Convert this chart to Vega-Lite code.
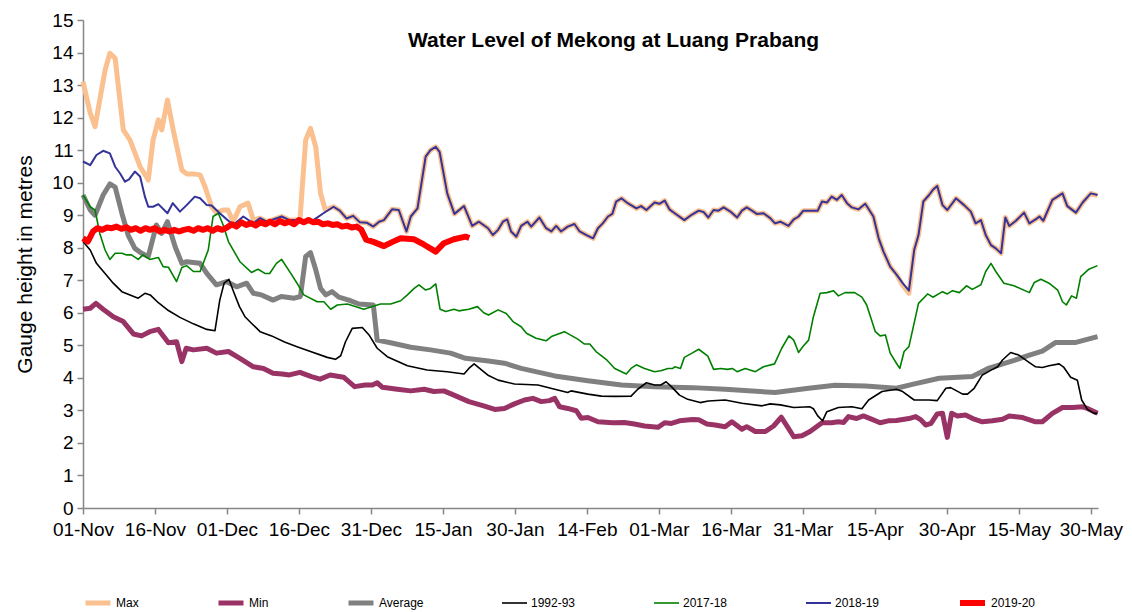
{
  "$schema": "https://vega.github.io/schema/vega-lite/v6.json",
  "width": 1015,
  "height": 488,
  "autosize": "none",
  "padding": {"left": 83, "top": 20, "right": 34, "bottom": 104},
  "title": {"text": "Water Level of Mekong at Luang Prabang", "font": "Liberation Sans", "fontSize": 21, "fontWeight": "bold", "color": "black", "anchor": "middle", "frame": "group", "offset": -40, "dx": 23},
  "config": {"view": {"stroke": null}, "font": "Liberation Sans"},
  "datasets": {
    "max": [
      {"s":"Max","d":0,"v":13.1},{"s":"Max","d":1.5,"v":12.14},{"s":"Max","d":2.5,"v":11.72},{"s":"Max","d":4.6,"v":13.46},{"s":"Max","d":5.6,"v":13.98},{"s":"Max","d":6.7,"v":13.82},{"s":"Max","d":8.4,"v":11.62},{"s":"Max","d":9.8,"v":11.31},{"s":"Max","d":11.9,"v":10.49},{"s":"Max","d":13.6,"v":10.08},{"s":"Max","d":14.6,"v":11.31},{"s":"Max","d":15.7,"v":11.93},{"s":"Max","d":16.4,"v":11.62},{"s":"Max","d":17.6,"v":12.54},{"s":"Max","d":18.8,"v":11.62},{"s":"Max","d":20.6,"v":10.39},{"s":"Max","d":21.6,"v":10.27},{"s":"Max","d":23,"v":10.27},{"s":"Max","d":24.4,"v":10.24},{"s":"Max","d":25.4,"v":9.88},{"s":"Max","d":26.8,"v":9.26},{"s":"Max","d":27.8,"v":9.08},{"s":"Max","d":29.2,"v":9.16},{"s":"Max","d":30.2,"v":9.16},{"s":"Max","d":31.3,"v":8.8},{"s":"Max","d":32.7,"v":9.26},{"s":"Max","d":34.4,"v":9.37},{"s":"Max","d":35.5,"v":8.85},{"s":"Max","d":36.9,"v":8.91},{"s":"Max","d":38.3,"v":8.8},{"s":"Max","d":41.4,"v":8.96},{"s":"Max","d":43,"v":8.85},{"s":"Max","d":45.2,"v":8.85},{"s":"Max","d":46.4,"v":11.31},{"s":"Max","d":47.4,"v":11.67},{"s":"Max","d":48.5,"v":11.1},{"s":"Max","d":49.5,"v":9.67},{"s":"Max","d":50.5,"v":9.16},
      {"s":"Max","d":52.2,"v":9.26},{"s":"Max","d":53.5,"v":9.14},{"s":"Max","d":54.9,"v":8.9},{"s":"Max","d":56.3,"v":8.98},{"s":"Max","d":57.7,"v":8.78},{"s":"Max","d":59.1,"v":8.77},{"s":"Max","d":60.5,"v":8.65},{"s":"Max","d":61.7,"v":8.8},{"s":"Max","d":62.7,"v":8.85},{"s":"Max","d":64.4,"v":9.18},{"s":"Max","d":65.8,"v":9.16},{"s":"Max","d":67.4,"v":8.5},{"s":"Max","d":68.3,"v":8.96},{"s":"Max","d":69.7,"v":9.21},{"s":"Max","d":71.4,"v":10.8},{"s":"Max","d":72.4,"v":11.0},{"s":"Max","d":73.5,"v":11.1},{"s":"Max","d":74.3,"v":10.95},{"s":"Max","d":75.9,"v":9.67},{"s":"Max","d":77.4,"v":9.04},{"s":"Max","d":79.4,"v":9.28},{"s":"Max","d":81.1,"v":8.67},{"s":"Max","d":82.5,"v":8.8},{"s":"Max","d":84.4,"v":8.6},{"s":"Max","d":85.4,"v":8.39},{"s":"Max","d":86.5,"v":8.55},{"s":"Max","d":87.5,"v":8.8},{"s":"Max","d":88.4,"v":8.87},{"s":"Max","d":89.2,"v":8.5},{"s":"Max","d":90.3,"v":8.34},{"s":"Max","d":91.3,"v":8.67},{"s":"Max","d":92.6,"v":8.8},{"s":"Max","d":93.4,"v":8.65},{"s":"Max","d":95.1,"v":8.93},{"s":"Max","d":96.5,"v":8.6},{"s":"Max","d":97.6,"v":8.5},{"s":"Max","d":98.6,"v":8.67},{"s":"Max","d":99.6,"v":8.5},{"s":"Max","d":101,"v":8.65},{"s":"Max","d":102.4,"v":8.73},{"s":"Max","d":103.5,"v":8.5},{"s":"Max","d":104.9,"v":8.39},{"s":"Max","d":106.3,"v":8.29},{"s":"Max","d":107.3,"v":8.6},{"s":"Max","d":108.3,"v":8.75},{"s":"Max","d":109.4,"v":8.96},{"s":"Max","d":110.3,"v":9.04},{"s":"Max","d":111.1,"v":9.42},{"s":"Max","d":112.2,"v":9.52},{"s":"Max","d":113.5,"v":9.37},{"s":"Max","d":115.3,"v":9.21},{"s":"Max","d":116.3,"v":9.28},{"s":"Max","d":117.4,"v":9.16},{"s":"Max","d":119.1,"v":9.39},{"s":"Max","d":120.1,"v":9.35},{"s":"Max","d":121.2,"v":9.45},{"s":"Max","d":122.2,"v":9.18},{"s":"Max","d":123.3,"v":9.06},{"s":"Max","d":125.3,"v":8.85},{"s":"Max","d":126.9,"v":9.02},{"s":"Max","d":128.3,"v":9.14},{"s":"Max","d":129.3,"v":9.1},{"s":"Max","d":130.3,"v":8.93},{"s":"Max","d":131.4,"v":9.16},{"s":"Max","d":132.4,"v":9.14},{"s":"Max","d":133.5,"v":9.24},{"s":"Max","d":134.9,"v":9.11},{"s":"Max","d":136.3,"v":8.93},{"s":"Max","d":137.3,"v":9.14},{"s":"Max","d":138.3,"v":9.24},{"s":"Max","d":139.4,"v":9.14},{"s":"Max","d":140.4,"v":9.04},{"s":"Max","d":141.8,"v":9.06},{"s":"Max","d":143.2,"v":8.91},{"s":"Max","d":144.2,"v":8.75},{"s":"Max","d":145.3,"v":8.8},{"s":"Max","d":147,"v":8.67},{"s":"Max","d":148.1,"v":8.87},{"s":"Max","d":149.1,"v":8.96},{"s":"Max","d":150.1,"v":9.14},{"s":"Max","d":153.1,"v":9.14},{"s":"Max","d":154,"v":9.42},{"s":"Max","d":155,"v":9.39},{"s":"Max","d":156,"v":9.57},{"s":"Max","d":157.1,"v":9.47},{"s":"Max","d":158.1,"v":9.62},{"s":"Max","d":159.2,"v":9.37},{"s":"Max","d":160.2,"v":9.24},{"s":"Max","d":161.6,"v":9.18},{"s":"Max","d":163,"v":9.35},{"s":"Max","d":164.7,"v":8.96},{"s":"Max","d":165.8,"v":8.29},{"s":"Max","d":166.8,"v":7.88},{"s":"Max","d":168.2,"v":7.42},{"s":"Max","d":169.6,"v":7.16},{"s":"Max","d":170.8,"v":6.85},{"s":"Max","d":172.1,"v":6.6},{"s":"Max","d":173.2,"v":7.93},{"s":"Max","d":174.1,"v":8.39},{"s":"Max","d":175.1,"v":9.42},{"s":"Max","d":176.3,"v":9.62},{"s":"Max","d":177.1,"v":9.78},{"s":"Max","d":178,"v":9.9},{"s":"Max","d":179.1,"v":9.31},{"s":"Max","d":180.1,"v":9.16},{"s":"Max","d":181.9,"v":9.52},{"s":"Max","d":183.6,"v":9.31},{"s":"Max","d":185,"v":9.11},{"s":"Max","d":186,"v":8.75},{"s":"Max","d":187.1,"v":8.85},{"s":"Max","d":188.1,"v":8.39},{"s":"Max","d":189.2,"v":8.08},{"s":"Max","d":190.2,"v":7.98},{"s":"Max","d":191.3,"v":7.83},{"s":"Max","d":192.2,"v":8.93},{"s":"Max","d":193,"v":8.67},{"s":"Max","d":194.4,"v":8.83},{"s":"Max","d":196.1,"v":9.08},{"s":"Max","d":197.2,"v":8.75},{"s":"Max","d":198.5,"v":8.87},{"s":"Max","d":199.3,"v":8.96},{"s":"Max","d":200.1,"v":8.83},{"s":"Max","d":202,"v":9.47},{"s":"Max","d":204.1,"v":9.67},{"s":"Max","d":205.1,"v":9.28},{"s":"Max","d":206.9,"v":9.08},{"s":"Max","d":208.3,"v":9.39},{"s":"Max","d":210,"v":9.67},{"s":"Max","d":211.4,"v":9.6}
    ],
    "min": [
      {"s":"Min","d":0,"v":6.11},{"s":"Min","d":1.5,"v":6.14},{"s":"Min","d":2.7,"v":6.29},{"s":"Min","d":4.2,"v":6.11},{"s":"Min","d":6.3,"v":5.88},{"s":"Min","d":8.4,"v":5.73},{"s":"Min","d":10.5,"v":5.35},{"s":"Min","d":12.2,"v":5.29},{"s":"Min","d":13.9,"v":5.42},{"s":"Min","d":15.7,"v":5.49},{"s":"Min","d":17.8,"v":5.08},{"s":"Min","d":19.5,"v":5.11},{"s":"Min","d":20.6,"v":4.5},{"s":"Min","d":21.5,"v":4.91},{"s":"Min","d":23,"v":4.86},{"s":"Min","d":25.8,"v":4.91},{"s":"Min","d":27.8,"v":4.76},{"s":"Min","d":30.3,"v":4.81},{"s":"Min","d":32.7,"v":4.6},{"s":"Min","d":35.5,"v":4.34},{"s":"Min","d":37.6,"v":4.29},{"s":"Min","d":39.6,"v":4.14},{"s":"Min","d":41.5,"v":4.12},{"s":"Min","d":43,"v":4.09},{"s":"Min","d":45.2,"v":4.17},{"s":"Min","d":47.6,"v":4.04},{"s":"Min","d":49.4,"v":3.96},{"s":"Min","d":51.5,"v":4.09},{"s":"Min","d":54.3,"v":4.02},{"s":"Min","d":56.6,"v":3.73},{"s":"Min","d":58.8,"v":3.78},{"s":"Min","d":60.3,"v":3.78},{"s":"Min","d":61.3,"v":3.85},{"s":"Min","d":62.4,"v":3.71},{"s":"Min","d":65.5,"v":3.65},{"s":"Min","d":68.3,"v":3.6},{"s":"Min","d":71.1,"v":3.65},{"s":"Min","d":73.1,"v":3.58},{"s":"Min","d":75.2,"v":3.6},{"s":"Min","d":77.3,"v":3.47},{"s":"Min","d":80.4,"v":3.27},{"s":"Min","d":83.5,"v":3.14},{"s":"Min","d":85.8,"v":3.03},{"s":"Min","d":87.8,"v":3.06},{"s":"Min","d":89.9,"v":3.2},{"s":"Min","d":92,"v":3.32},{"s":"Min","d":93.75,"v":3.37},{"s":"Min","d":95.5,"v":3.27},{"s":"Min","d":97.2,"v":3.3},{"s":"Min","d":98.3,"v":3.37},{"s":"Min","d":99.3,"v":3.11},{"s":"Min","d":101,"v":3.06},{"s":"Min","d":102.8,"v":2.99},{"s":"Min","d":103.8,"v":2.76},{"s":"Min","d":105.2,"v":2.78},{"s":"Min","d":107.3,"v":2.65},{"s":"Min","d":110.4,"v":2.62},{"s":"Min","d":112.8,"v":2.63},{"s":"Min","d":114.9,"v":2.58},{"s":"Min","d":117,"v":2.52},{"s":"Min","d":119.8,"v":2.48},{"s":"Min","d":121.2,"v":2.62},{"s":"Min","d":122.6,"v":2.6},{"s":"Min","d":124.3,"v":2.68},{"s":"Min","d":127,"v":2.72},{"s":"Min","d":128.3,"v":2.71},{"s":"Min","d":130,"v":2.58},{"s":"Min","d":131.7,"v":2.55},{"s":"Min","d":133.8,"v":2.5},{"s":"Min","d":135.2,"v":2.65},{"s":"Min","d":137.3,"v":2.42},{"s":"Min","d":138.3,"v":2.5},{"s":"Min","d":140.1,"v":2.35},{"s":"Min","d":142.2,"v":2.35},{"s":"Min","d":143.9,"v":2.52},{"s":"Min","d":145.5,"v":2.79},{"s":"Min","d":146.7,"v":2.52},{"s":"Min","d":148.1,"v":2.19},{"s":"Min","d":149.8,"v":2.22},{"s":"Min","d":151.5,"v":2.35},{"s":"Min","d":154,"v":2.62},{"s":"Min","d":156,"v":2.62},{"s":"Min","d":157.4,"v":2.65},{"s":"Min","d":158.5,"v":2.63},{"s":"Min","d":159.5,"v":2.81},{"s":"Min","d":161.2,"v":2.75},{"s":"Min","d":162.6,"v":2.83},{"s":"Min","d":164.3,"v":2.73},{"s":"Min","d":166.1,"v":2.62},{"s":"Min","d":167.8,"v":2.68},{"s":"Min","d":169.5,"v":2.69},{"s":"Min","d":172.1,"v":2.75},{"s":"Min","d":173.5,"v":2.81},{"s":"Min","d":174.6,"v":2.71},{"s":"Min","d":175.6,"v":2.55},{"s":"Min","d":176.7,"v":2.6},{"s":"Min","d":178,"v":2.89},{"s":"Min","d":179.1,"v":2.91},{"s":"Min","d":180.1,"v":2.17},{"s":"Min","d":181,"v":2.91},{"s":"Min","d":182.2,"v":2.83},{"s":"Min","d":183.9,"v":2.86},{"s":"Min","d":185.7,"v":2.73},{"s":"Min","d":187.4,"v":2.65},{"s":"Min","d":189.5,"v":2.68},{"s":"Min","d":191.6,"v":2.73},{"s":"Min","d":193,"v":2.83},{"s":"Min","d":195.8,"v":2.78},{"s":"Min","d":198.5,"v":2.65},{"s":"Min","d":199.9,"v":2.65},{"s":"Min","d":202,"v":2.91},{"s":"Min","d":204.1,"v":3.09},{"s":"Min","d":206.2,"v":3.09},{"s":"Min","d":208.3,"v":3.11},{"s":"Min","d":209.3,"v":3.06},{"s":"Min","d":211.4,"v":2.91}
    ],
    "avg": [
      {"s":"Average","d":0,"v":9.62},{"s":"Average","d":1.5,"v":9.16},{"s":"Average","d":2.5,"v":9.0},{"s":"Average","d":4.2,"v":9.62},{"s":"Average","d":5.6,"v":9.96},{"s":"Average","d":6.7,"v":9.86},{"s":"Average","d":8.1,"v":9.06},{"s":"Average","d":9.4,"v":8.39},{"s":"Average","d":10.8,"v":7.98},{"s":"Average","d":12.2,"v":7.83},{"s":"Average","d":13.6,"v":7.73},{"s":"Average","d":15.3,"v":8.7},{"s":"Average","d":16.4,"v":8.44},{"s":"Average","d":17.6,"v":8.8},{"s":"Average","d":19.2,"v":8.03},{"s":"Average","d":20.6,"v":7.52},{"s":"Average","d":21.6,"v":7.57},{"s":"Average","d":24.4,"v":7.52},{"s":"Average","d":25.8,"v":7.21},{"s":"Average","d":27.8,"v":6.86},{"s":"Average","d":29.9,"v":6.96},{"s":"Average","d":32,"v":6.8},{"s":"Average","d":34.1,"v":6.91},{"s":"Average","d":35.5,"v":6.6},{"s":"Average","d":37.2,"v":6.55},{"s":"Average","d":39.6,"v":6.39},{"s":"Average","d":41.3,"v":6.5},{"s":"Average","d":44,"v":6.45},{"s":"Average","d":45.3,"v":6.5},{"s":"Average","d":46.4,"v":7.73},{"s":"Average","d":47.4,"v":7.85},{"s":"Average","d":48.5,"v":7.32},{"s":"Average","d":49.5,"v":6.75},{"s":"Average","d":50.6,"v":6.55},{"s":"Average","d":51.9,"v":6.65},{"s":"Average","d":53.3,"v":6.48},{"s":"Average","d":55.4,"v":6.39},{"s":"Average","d":57.5,"v":6.27},{"s":"Average","d":60.5,"v":6.24},{"s":"Average","d":61.3,"v":5.16},{"s":"Average","d":64.1,"v":5.08},{"s":"Average","d":68.3,"v":4.94},{"s":"Average","d":72.4,"v":4.86},{"s":"Average","d":76.6,"v":4.76},{"s":"Average","d":79.7,"v":4.6},{"s":"Average","d":84.5,"v":4.52},{"s":"Average","d":87.8,"v":4.45},{"s":"Average","d":91.3,"v":4.29},{"s":"Average","d":98.3,"v":4.06},{"s":"Average","d":105.2,"v":3.91},{"s":"Average","d":112.2,"v":3.78},{"s":"Average","d":119.1,"v":3.73},{"s":"Average","d":127,"v":3.7},{"s":"Average","d":133.8,"v":3.65},{"s":"Average","d":144.2,"v":3.55},{"s":"Average","d":151.2,"v":3.68},{"s":"Average","d":156.7,"v":3.77},{"s":"Average","d":163,"v":3.75},{"s":"Average","d":169.5,"v":3.68},{"s":"Average","d":172.8,"v":3.8},{"s":"Average","d":178.4,"v":3.99},{"s":"Average","d":185.3,"v":4.04},{"s":"Average","d":188.8,"v":4.3},{"s":"Average","d":193.7,"v":4.52},{"s":"Average","d":197.2,"v":4.7},{"s":"Average","d":199.9,"v":4.82},{"s":"Average","d":202.7,"v":5.09},{"s":"Average","d":206.9,"v":5.09},{"s":"Average","d":211.4,"v":5.27}
    ],
    "y1992": [
      {"s":"1992-93","d":0,"v":8.19},{"s":"1992-93","d":1.5,"v":7.93},{"s":"1992-93","d":2.8,"v":7.52},{"s":"1992-93","d":4.6,"v":7.21},{"s":"1992-93","d":6.3,"v":6.91},{"s":"1992-93","d":8.1,"v":6.65},{"s":"1992-93","d":9.8,"v":6.55},{"s":"1992-93","d":11.5,"v":6.45},{"s":"1992-93","d":12.9,"v":6.6},{"s":"1992-93","d":14,"v":6.55},{"s":"1992-93","d":15.7,"v":6.31},{"s":"1992-93","d":17.8,"v":6.07},{"s":"1992-93","d":20.2,"v":5.86},{"s":"1992-93","d":23,"v":5.66},{"s":"1992-93","d":25.8,"v":5.49},{"s":"1992-93","d":27.5,"v":5.45},{"s":"1992-93","d":28.5,"v":6.39},{"s":"1992-93","d":29.4,"v":6.91},{"s":"1992-93","d":30.4,"v":7.03},{"s":"1992-93","d":31.5,"v":6.6},{"s":"1992-93","d":32.6,"v":6.19},{"s":"1992-93","d":33.75,"v":5.88},{"s":"1992-93","d":35.1,"v":5.68},{"s":"1992-93","d":36.9,"v":5.42},{"s":"1992-93","d":39.3,"v":5.29},{"s":"1992-93","d":42,"v":5.1},{"s":"1992-93","d":44.6,"v":4.96},{"s":"1992-93","d":47.4,"v":4.81},{"s":"1992-93","d":50.9,"v":4.63},{"s":"1992-93","d":52.6,"v":4.57},{"s":"1992-93","d":53.7,"v":4.68},{"s":"1992-93","d":54.7,"v":5.11},{"s":"1992-93","d":56.1,"v":5.52},{"s":"1992-93","d":58.2,"v":5.55},{"s":"1992-93","d":59.6,"v":5.32},{"s":"1992-93","d":61.3,"v":4.91},{"s":"1992-93","d":63.4,"v":4.65},{"s":"1992-93","d":67.6,"v":4.37},{"s":"1992-93","d":71.7,"v":4.24},{"s":"1992-93","d":75.9,"v":4.19},{"s":"1992-93","d":79.4,"v":4.12},{"s":"1992-93","d":80.4,"v":4.29},{"s":"1992-93","d":81.5,"v":4.43},{"s":"1992-93","d":82.9,"v":4.26},{"s":"1992-93","d":84.5,"v":4.07},{"s":"1992-93","d":86.5,"v":3.93},{"s":"1992-93","d":89.9,"v":3.81},{"s":"1992-93","d":94.8,"v":3.78},{"s":"1992-93","d":98.3,"v":3.65},{"s":"1992-93","d":101,"v":3.55},{"s":"1992-93","d":101.7,"v":3.6},{"s":"1992-93","d":105.2,"v":3.5},{"s":"1992-93","d":108,"v":3.44},{"s":"1992-93","d":110.8,"v":3.43},{"s":"1992-93","d":114.2,"v":3.44},{"s":"1992-93","d":115.6,"v":3.65},{"s":"1992-93","d":117.4,"v":3.85},{"s":"1992-93","d":119.1,"v":3.78},{"s":"1992-93","d":120.4,"v":3.78},{"s":"1992-93","d":121.5,"v":3.88},{"s":"1992-93","d":122.6,"v":3.73},{"s":"1992-93","d":124.3,"v":3.47},{"s":"1992-93","d":126,"v":3.34},{"s":"1992-93","d":128.6,"v":3.24},{"s":"1992-93","d":130.3,"v":3.29},{"s":"1992-93","d":133.8,"v":3.32},{"s":"1992-93","d":137.3,"v":3.22},{"s":"1992-93","d":141.5,"v":3.14},{"s":"1992-93","d":143.2,"v":3.2},{"s":"1992-93","d":145.3,"v":3.17},{"s":"1992-93","d":148.1,"v":3.09},{"s":"1992-93","d":151.5,"v":3.11},{"s":"1992-93","d":152.2,"v":3.05},{"s":"1992-93","d":153.1,"v":2.83},{"s":"1992-93","d":154.1,"v":2.68},{"s":"1992-93","d":155,"v":2.96},{"s":"1992-93","d":157.4,"v":3.09},{"s":"1992-93","d":160.2,"v":3.11},{"s":"1992-93","d":162.3,"v":3.05},{"s":"1992-93","d":163.7,"v":3.32},{"s":"1992-93","d":166.5,"v":3.58},{"s":"1992-93","d":169.5,"v":3.65},{"s":"1992-93","d":170.8,"v":3.58},{"s":"1992-93","d":173.2,"v":3.32},{"s":"1992-93","d":176.3,"v":3.32},{"s":"1992-93","d":178,"v":3.3},{"s":"1992-93","d":179.8,"v":3.68},{"s":"1992-93","d":180.8,"v":3.7},{"s":"1992-93","d":183.3,"v":3.5},{"s":"1992-93","d":184.3,"v":3.5},{"s":"1992-93","d":185.7,"v":3.68},{"s":"1992-93","d":187.4,"v":4.09},{"s":"1992-93","d":189.5,"v":4.26},{"s":"1992-93","d":190.6,"v":4.34},{"s":"1992-93","d":191.6,"v":4.55},{"s":"1992-93","d":193.3,"v":4.78},{"s":"1992-93","d":195,"v":4.7},{"s":"1992-93","d":197.2,"v":4.47},{"s":"1992-93","d":198.5,"v":4.34},{"s":"1992-93","d":199.9,"v":4.32},{"s":"1992-93","d":201.3,"v":4.37},{"s":"1992-93","d":203.4,"v":4.43},{"s":"1992-93","d":204.4,"v":4.32},{"s":"1992-93","d":205.8,"v":4.02},{"s":"1992-93","d":207.2,"v":3.93},{"s":"1992-93","d":208.1,"v":3.32},{"s":"1992-93","d":209.3,"v":3.03},{"s":"1992-93","d":210.7,"v":2.91},{"s":"1992-93","d":211.4,"v":2.91}
    ],
    "y2017": [
      {"s":"2017-18","d":0,"v":9.62},{"s":"2017-18","d":1.5,"v":9.26},{"s":"2017-18","d":2.5,"v":9.16},{"s":"2017-18","d":3.5,"v":8.44},{"s":"2017-18","d":4.6,"v":7.93},{"s":"2017-18","d":5.6,"v":7.64},{"s":"2017-18","d":6.7,"v":7.83},{"s":"2017-18","d":8.1,"v":7.83},{"s":"2017-18","d":9.1,"v":7.78},{"s":"2017-18","d":10.1,"v":7.78},{"s":"2017-18","d":11.5,"v":7.64},{"s":"2017-18","d":12.5,"v":7.78},{"s":"2017-18","d":13.9,"v":7.64},{"s":"2017-18","d":15.7,"v":7.7},{"s":"2017-18","d":16.7,"v":7.42},{"s":"2017-18","d":17.8,"v":7.4},{"s":"2017-18","d":19.5,"v":6.96},{"s":"2017-18","d":20.6,"v":7.39},{"s":"2017-18","d":21.6,"v":7.45},{"s":"2017-18","d":23,"v":7.27},{"s":"2017-18","d":24.4,"v":7.27},{"s":"2017-18","d":26.1,"v":7.93},{"s":"2017-18","d":27.1,"v":8.96},{"s":"2017-18","d":28.2,"v":9.06},{"s":"2017-18","d":29.2,"v":8.7},{"s":"2017-18","d":30.3,"v":8.19},{"s":"2017-18","d":32.7,"v":7.57},{"s":"2017-18","d":35.1,"v":7.24},{"s":"2017-18","d":36.5,"v":7.34},{"s":"2017-18","d":37.9,"v":7.21},{"s":"2017-18","d":38.9,"v":7.21},{"s":"2017-18","d":40.3,"v":7.52},{"s":"2017-18","d":41.4,"v":7.64},{"s":"2017-18","d":43.3,"v":7.21},{"s":"2017-18","d":44.6,"v":6.91},{"s":"2017-18","d":46,"v":6.55},{"s":"2017-18","d":48.8,"v":6.34},{"s":"2017-18","d":50.2,"v":6.34},{"s":"2017-18","d":51.6,"v":6.11},{"s":"2017-18","d":53,"v":6.24},{"s":"2017-18","d":55.1,"v":6.27},{"s":"2017-18","d":58.5,"v":6.11},{"s":"2017-18","d":62,"v":6.27},{"s":"2017-18","d":64.1,"v":6.27},{"s":"2017-18","d":66.2,"v":6.37},{"s":"2017-18","d":67.6,"v":6.55},{"s":"2017-18","d":69,"v":6.75},{"s":"2017-18","d":70,"v":6.86},{"s":"2017-18","d":71.4,"v":6.7},{"s":"2017-18","d":72.4,"v":6.75},{"s":"2017-18","d":73.5,"v":6.89},{"s":"2017-18","d":74.4,"v":6.11},{"s":"2017-18","d":75.6,"v":6.04},{"s":"2017-18","d":77.3,"v":6.11},{"s":"2017-18","d":78.3,"v":6.06},{"s":"2017-18","d":80.4,"v":6.11},{"s":"2017-18","d":82.2,"v":6.19},{"s":"2017-18","d":83.5,"v":6.0},{"s":"2017-18","d":84.5,"v":5.93},{"s":"2017-18","d":86.5,"v":6.09},{"s":"2017-18","d":88.2,"v":5.98},{"s":"2017-18","d":89.6,"v":5.73},{"s":"2017-18","d":91.3,"v":5.57},{"s":"2017-18","d":92.4,"v":5.37},{"s":"2017-18","d":94.4,"v":5.22},{"s":"2017-18","d":96.5,"v":5.14},{"s":"2017-18","d":97.6,"v":5.27},{"s":"2017-18","d":100.3,"v":5.42},{"s":"2017-18","d":103.1,"v":5.19},{"s":"2017-18","d":104.5,"v":5.04},{"s":"2017-18","d":105.6,"v":5.04},{"s":"2017-18","d":106.9,"v":4.81},{"s":"2017-18","d":109,"v":4.57},{"s":"2017-18","d":110.8,"v":4.29},{"s":"2017-18","d":113.2,"v":4.12},{"s":"2017-18","d":114.2,"v":4.29},{"s":"2017-18","d":115.3,"v":4.4},{"s":"2017-18","d":117,"v":4.29},{"s":"2017-18","d":119.1,"v":4.19},{"s":"2017-18","d":120.4,"v":4.22},{"s":"2017-18","d":121.9,"v":4.29},{"s":"2017-18","d":122.9,"v":4.29},{"s":"2017-18","d":123.3,"v":4.34},{"s":"2017-18","d":124.5,"v":4.29},{"s":"2017-18","d":125.3,"v":4.63},{"s":"2017-18","d":126.9,"v":4.76},{"s":"2017-18","d":128.3,"v":4.88},{"s":"2017-18","d":130.2,"v":4.67},{"s":"2017-18","d":131.4,"v":4.26},{"s":"2017-18","d":132.9,"v":4.29},{"s":"2017-18","d":134.3,"v":4.26},{"s":"2017-18","d":135.3,"v":4.29},{"s":"2017-18","d":136.3,"v":4.19},{"s":"2017-18","d":138,"v":4.29},{"s":"2017-18","d":140.1,"v":4.19},{"s":"2017-18","d":141.8,"v":4.34},{"s":"2017-18","d":144.1,"v":4.43},{"s":"2017-18","d":145.6,"v":4.91},{"s":"2017-18","d":147.1,"v":5.29},{"s":"2017-18","d":148.1,"v":5.16},{"s":"2017-18","d":149.1,"v":4.78},{"s":"2017-18","d":150.1,"v":4.98},{"s":"2017-18","d":151.2,"v":5.16},{"s":"2017-18","d":152.2,"v":5.88},{"s":"2017-18","d":153.6,"v":6.6},{"s":"2017-18","d":155,"v":6.62},{"s":"2017-18","d":156.4,"v":6.68},{"s":"2017-18","d":157.4,"v":6.52},{"s":"2017-18","d":158.8,"v":6.62},{"s":"2017-18","d":160.8,"v":6.62},{"s":"2017-18","d":162.3,"v":6.48},{"s":"2017-18","d":163.3,"v":6.24},{"s":"2017-18","d":165.1,"v":5.42},{"s":"2017-18","d":166.1,"v":5.29},{"s":"2017-18","d":167.2,"v":5.32},{"s":"2017-18","d":168.2,"v":4.76},{"s":"2017-18","d":169.5,"v":4.45},{"s":"2017-18","d":170.2,"v":4.29},{"s":"2017-18","d":171.1,"v":4.81},{"s":"2017-18","d":172.1,"v":4.96},{"s":"2017-18","d":174.1,"v":6.29},{"s":"2017-18","d":176,"v":6.58},{"s":"2017-18","d":177.1,"v":6.48},{"s":"2017-18","d":179.1,"v":6.65},{"s":"2017-18","d":180.1,"v":6.58},{"s":"2017-18","d":181.2,"v":6.68},{"s":"2017-18","d":182.6,"v":6.62},{"s":"2017-18","d":184.1,"v":6.83},{"s":"2017-18","d":185.3,"v":6.72},{"s":"2017-18","d":187.1,"v":6.86},{"s":"2017-18","d":188.1,"v":7.27},{"s":"2017-18","d":189.2,"v":7.52},{"s":"2017-18","d":190.2,"v":7.27},{"s":"2017-18","d":191.9,"v":6.91},{"s":"2017-18","d":194,"v":6.83},{"s":"2017-18","d":197.2,"v":6.62},{"s":"2017-18","d":198.2,"v":6.93},{"s":"2017-18","d":199.6,"v":7.03},{"s":"2017-18","d":201.3,"v":6.91},{"s":"2017-18","d":203.1,"v":6.7},{"s":"2017-18","d":204.1,"v":6.34},{"s":"2017-18","d":204.9,"v":6.24},{"s":"2017-18","d":206,"v":6.52},{"s":"2017-18","d":207,"v":6.45},{"s":"2017-18","d":207.9,"v":7.11},{"s":"2017-18","d":209.6,"v":7.34},{"s":"2017-18","d":211.4,"v":7.45}
    ],
    "y2018": [
      {"s":"2018-19","d":0,"v":10.65},{"s":"2018-19","d":1.5,"v":10.54},{"s":"2018-19","d":2.8,"v":10.85},{"s":"2018-19","d":4.2,"v":10.98},{"s":"2018-19","d":5.6,"v":10.9},{"s":"2018-19","d":6.7,"v":10.49},{"s":"2018-19","d":7.7,"v":10.29},{"s":"2018-19","d":8.75,"v":10.03},{"s":"2018-19","d":9.6,"v":10.1},{"s":"2018-19","d":10.8,"v":10.34},{"s":"2018-19","d":11.9,"v":10.19},{"s":"2018-19","d":12.9,"v":9.57},{"s":"2018-19","d":13.6,"v":9.26},{"s":"2018-19","d":14.6,"v":9.26},{"s":"2018-19","d":15.7,"v":9.34},{"s":"2018-19","d":17.6,"v":9.06},{"s":"2018-19","d":18.7,"v":9.37},{"s":"2018-19","d":20.2,"v":9.11},{"s":"2018-19","d":21.6,"v":9.31},{"s":"2018-19","d":23.3,"v":9.57},{"s":"2018-19","d":24.4,"v":9.52},{"s":"2018-19","d":25.8,"v":9.31},{"s":"2018-19","d":26.8,"v":9.3},{"s":"2018-19","d":28.5,"v":9.06},{"s":"2018-19","d":31.3,"v":8.7},{"s":"2018-19","d":33.4,"v":8.96},{"s":"2018-19","d":35.5,"v":8.75},{"s":"2018-19","d":36.9,"v":8.91},{"s":"2018-19","d":38.3,"v":8.8},{"s":"2018-19","d":41.4,"v":8.96},{"s":"2018-19","d":43,"v":8.85},{"s":"2018-19","d":45,"v":8.85},{"s":"2018-19","d":48,"v":8.85},{"s":"2018-19","d":50.1,"v":9.06},{"s":"2018-19","d":52.2,"v":9.26},{"s":"2018-19","d":53.5,"v":9.14},{"s":"2018-19","d":54.9,"v":8.9},{"s":"2018-19","d":56.3,"v":8.98},{"s":"2018-19","d":57.7,"v":8.78},{"s":"2018-19","d":59.1,"v":8.77},{"s":"2018-19","d":60.5,"v":8.65},{"s":"2018-19","d":61.7,"v":8.8},{"s":"2018-19","d":62.7,"v":8.85},{"s":"2018-19","d":64.4,"v":9.18},{"s":"2018-19","d":65.8,"v":9.16},{"s":"2018-19","d":67.4,"v":8.5},{"s":"2018-19","d":68.3,"v":8.96},{"s":"2018-19","d":69.7,"v":9.21},{"s":"2018-19","d":71.4,"v":10.8},{"s":"2018-19","d":72.4,"v":11.0},{"s":"2018-19","d":73.5,"v":11.1},{"s":"2018-19","d":74.3,"v":10.95},{"s":"2018-19","d":75.9,"v":9.67},{"s":"2018-19","d":77.4,"v":9.04},{"s":"2018-19","d":79.4,"v":9.28},{"s":"2018-19","d":81.1,"v":8.67},{"s":"2018-19","d":82.5,"v":8.8},{"s":"2018-19","d":84.4,"v":8.6},{"s":"2018-19","d":85.4,"v":8.39},{"s":"2018-19","d":86.5,"v":8.55},{"s":"2018-19","d":87.5,"v":8.8},{"s":"2018-19","d":88.4,"v":8.87},{"s":"2018-19","d":89.2,"v":8.5},{"s":"2018-19","d":90.3,"v":8.34},{"s":"2018-19","d":91.3,"v":8.67},{"s":"2018-19","d":92.6,"v":8.8},{"s":"2018-19","d":93.4,"v":8.65},{"s":"2018-19","d":95.1,"v":8.93},{"s":"2018-19","d":96.5,"v":8.6},{"s":"2018-19","d":97.6,"v":8.5},{"s":"2018-19","d":98.6,"v":8.67},{"s":"2018-19","d":99.6,"v":8.5},{"s":"2018-19","d":101,"v":8.65},{"s":"2018-19","d":102.4,"v":8.73},{"s":"2018-19","d":103.5,"v":8.5},{"s":"2018-19","d":104.9,"v":8.39},{"s":"2018-19","d":106.3,"v":8.29},{"s":"2018-19","d":107.3,"v":8.6},{"s":"2018-19","d":108.3,"v":8.75},{"s":"2018-19","d":109.4,"v":8.96},{"s":"2018-19","d":110.3,"v":9.04},{"s":"2018-19","d":111.1,"v":9.42},{"s":"2018-19","d":112.2,"v":9.52},{"s":"2018-19","d":113.5,"v":9.37},{"s":"2018-19","d":115.3,"v":9.21},{"s":"2018-19","d":116.3,"v":9.28},{"s":"2018-19","d":117.4,"v":9.16},{"s":"2018-19","d":119.1,"v":9.39},{"s":"2018-19","d":120.1,"v":9.35},{"s":"2018-19","d":121.2,"v":9.45},{"s":"2018-19","d":122.2,"v":9.18},{"s":"2018-19","d":123.3,"v":9.06},{"s":"2018-19","d":125.3,"v":8.85},{"s":"2018-19","d":126.9,"v":9.02},{"s":"2018-19","d":128.3,"v":9.14},{"s":"2018-19","d":129.3,"v":9.1},{"s":"2018-19","d":130.3,"v":8.93},{"s":"2018-19","d":131.4,"v":9.16},{"s":"2018-19","d":132.4,"v":9.14},{"s":"2018-19","d":133.5,"v":9.24},{"s":"2018-19","d":134.9,"v":9.11},{"s":"2018-19","d":136.3,"v":8.93},{"s":"2018-19","d":137.3,"v":9.14},{"s":"2018-19","d":138.3,"v":9.24},{"s":"2018-19","d":139.4,"v":9.14},{"s":"2018-19","d":140.4,"v":9.04},{"s":"2018-19","d":141.8,"v":9.06},{"s":"2018-19","d":143.2,"v":8.91},{"s":"2018-19","d":144.2,"v":8.75},{"s":"2018-19","d":145.3,"v":8.8},{"s":"2018-19","d":147,"v":8.67},{"s":"2018-19","d":148.1,"v":8.87},{"s":"2018-19","d":149.1,"v":8.96},{"s":"2018-19","d":150.1,"v":9.14},{"s":"2018-19","d":153.1,"v":9.14},{"s":"2018-19","d":154,"v":9.42},{"s":"2018-19","d":155,"v":9.39},{"s":"2018-19","d":156,"v":9.57},{"s":"2018-19","d":157.1,"v":9.47},{"s":"2018-19","d":158.1,"v":9.62},{"s":"2018-19","d":159.2,"v":9.37},{"s":"2018-19","d":160.2,"v":9.24},{"s":"2018-19","d":161.6,"v":9.18},{"s":"2018-19","d":163,"v":9.35},{"s":"2018-19","d":164.7,"v":8.96},{"s":"2018-19","d":165.8,"v":8.29},{"s":"2018-19","d":166.8,"v":7.88},{"s":"2018-19","d":168.2,"v":7.42},{"s":"2018-19","d":169.6,"v":7.16},{"s":"2018-19","d":170.8,"v":6.91},{"s":"2018-19","d":172.1,"v":6.68},{"s":"2018-19","d":173.2,"v":7.93},{"s":"2018-19","d":174.1,"v":8.39},{"s":"2018-19","d":175.1,"v":9.42},{"s":"2018-19","d":176.3,"v":9.62},{"s":"2018-19","d":177.1,"v":9.78},{"s":"2018-19","d":178,"v":9.9},{"s":"2018-19","d":179.1,"v":9.31},{"s":"2018-19","d":180.1,"v":9.16},{"s":"2018-19","d":181.9,"v":9.52},{"s":"2018-19","d":183.6,"v":9.31},{"s":"2018-19","d":185,"v":9.11},{"s":"2018-19","d":186,"v":8.75},{"s":"2018-19","d":187.1,"v":8.85},{"s":"2018-19","d":188.1,"v":8.39},{"s":"2018-19","d":189.2,"v":8.08},{"s":"2018-19","d":190.2,"v":7.98},{"s":"2018-19","d":191.3,"v":7.83},{"s":"2018-19","d":192.2,"v":8.93},{"s":"2018-19","d":193,"v":8.67},{"s":"2018-19","d":194.4,"v":8.83},{"s":"2018-19","d":196.1,"v":9.08},{"s":"2018-19","d":197.2,"v":8.75},{"s":"2018-19","d":198.5,"v":8.87},{"s":"2018-19","d":199.3,"v":8.96},{"s":"2018-19","d":200.1,"v":8.83},{"s":"2018-19","d":202,"v":9.47},{"s":"2018-19","d":204.1,"v":9.67},{"s":"2018-19","d":205.1,"v":9.28},{"s":"2018-19","d":206.9,"v":9.08},{"s":"2018-19","d":208.3,"v":9.39},{"s":"2018-19","d":210,"v":9.67},{"s":"2018-19","d":211.4,"v":9.62}
    ],
    "y2019": [
      {"s":"2019-20","d":0,"v":8.29},{"s":"2019-20","d":1,"v":8.19},{"s":"2019-20","d":2.1,"v":8.5},{"s":"2019-20","d":3,"v":8.6},{"s":"2019-20","d":4,"v":8.55},{"s":"2019-20","d":5,"v":8.62},{"s":"2019-20","d":6,"v":8.6},{"s":"2019-20","d":7,"v":8.65},{"s":"2019-20","d":8,"v":8.58},{"s":"2019-20","d":9,"v":8.63},{"s":"2019-20","d":10,"v":8.55},{"s":"2019-20","d":11,"v":8.6},{"s":"2019-20","d":12,"v":8.52},{"s":"2019-20","d":13,"v":8.6},{"s":"2019-20","d":14,"v":8.55},{"s":"2019-20","d":15,"v":8.6},{"s":"2019-20","d":16,"v":8.5},{"s":"2019-20","d":17,"v":8.55},{"s":"2019-20","d":18,"v":8.5},{"s":"2019-20","d":19,"v":8.55},{"s":"2019-20","d":20,"v":8.5},{"s":"2019-20","d":21,"v":8.55},{"s":"2019-20","d":22,"v":8.58},{"s":"2019-20","d":23,"v":8.52},{"s":"2019-20","d":24,"v":8.6},{"s":"2019-20","d":25,"v":8.55},{"s":"2019-20","d":26,"v":8.6},{"s":"2019-20","d":27,"v":8.52},{"s":"2019-20","d":28,"v":8.6},{"s":"2019-20","d":29,"v":8.55},{"s":"2019-20","d":30,"v":8.62},{"s":"2019-20","d":31,"v":8.72},{"s":"2019-20","d":32,"v":8.65},{"s":"2019-20","d":33,"v":8.78},{"s":"2019-20","d":34,"v":8.7},{"s":"2019-20","d":35,"v":8.75},{"s":"2019-20","d":36,"v":8.68},{"s":"2019-20","d":37,"v":8.78},{"s":"2019-20","d":38,"v":8.72},{"s":"2019-20","d":39,"v":8.8},{"s":"2019-20","d":40,"v":8.72},{"s":"2019-20","d":41,"v":8.82},{"s":"2019-20","d":42,"v":8.75},{"s":"2019-20","d":43,"v":8.8},{"s":"2019-20","d":44,"v":8.72},{"s":"2019-20","d":45,"v":8.85},{"s":"2019-20","d":46,"v":8.78},{"s":"2019-20","d":47,"v":8.85},{"s":"2019-20","d":48,"v":8.78},{"s":"2019-20","d":49,"v":8.8},{"s":"2019-20","d":50,"v":8.72},{"s":"2019-20","d":51,"v":8.75},{"s":"2019-20","d":52,"v":8.7},{"s":"2019-20","d":53,"v":8.72},{"s":"2019-20","d":54,"v":8.65},{"s":"2019-20","d":55,"v":8.68},{"s":"2019-20","d":56,"v":8.62},{"s":"2019-20","d":57,"v":8.65},{"s":"2019-20","d":58,"v":8.55},{"s":"2019-20","d":59,"v":8.25},{"s":"2019-20","d":60.5,"v":8.18},{"s":"2019-20","d":62.7,"v":8.05},{"s":"2019-20","d":64.5,"v":8.18},{"s":"2019-20","d":66.2,"v":8.29},{"s":"2019-20","d":69,"v":8.26},{"s":"2019-20","d":71,"v":8.1},{"s":"2019-20","d":73.5,"v":7.88},{"s":"2019-20","d":75.2,"v":8.14},{"s":"2019-20","d":77.3,"v":8.26},{"s":"2019-20","d":79.7,"v":8.34},{"s":"2019-20","d":80.5,"v":8.3}
    ]
  },
  "layer": [
    {"data": {"name": "max"}, "mark": {"type": "line", "strokeJoin": "round"}, "encoding": {}},
    {"data": {"name": "min"}, "mark": {"type": "line", "strokeJoin": "round"}, "encoding": {}},
    {"data": {"name": "avg"}, "mark": {"type": "line", "strokeJoin": "round"}, "encoding": {}},
    {"data": {"name": "y1992"}, "mark": {"type": "line", "strokeJoin": "round"}, "encoding": {}},
    {"data": {"name": "y2017"}, "mark": {"type": "line", "strokeJoin": "round"}, "encoding": {}},
    {"data": {"name": "y2018"}, "mark": {"type": "line", "strokeJoin": "round"}, "encoding": {}},
    {"data": {"name": "y2019"}, "mark": {"type": "line", "strokeJoin": "round"}, "encoding": {}}
  ],
  "encoding": {
    "x": {"field": "d", "type": "quantitative", "scale": {"domain": [0, 211.5], "nice": false, "zero": false},
      "axis": {"title": null, "values": [0,15,30,45,60,75,90,105,120,135,150,165,180,195,210], "labelExpr": "timeFormat(datetime(2018, 10, 1 + datum.value), '%d-%b')", "labelFlush": false, "labelOverlap": false, "grid": false, "domainColor": "#868686", "domainWidth": 1.5, "tickColor": "#868686", "tickWidth": 1.5, "tickSize": 6, "labelFontSize": 19, "labelColor": "black", "labelFont": "Liberation Sans", "labelPadding": 6}},
    "y": {"field": "v", "type": "quantitative", "scale": {"domain": [0, 15], "nice": false},
      "axis": {"title": "Gauge height in metres", "values": [0,1,2,3,4,5,6,7,8,9,10,11,12,13,14,15], "grid": false, "domainColor": "#868686", "domainWidth": 1.5, "tickColor": "#868686", "tickWidth": 1.5, "tickSize": 6, "labelFontSize": 19, "labelColor": "black", "labelFont": "Liberation Sans", "labelPadding": 4, "titleFont": "Liberation Sans", "titleFontSize": 21, "titleFontWeight": "normal", "titleColor": "black", "titlePadding": 16}},
    "color": {"field": "s", "type": "nominal",
      "scale": {"domain": ["Max","Min","Average","1992-93","2017-18","2018-19","2019-20"], "range": ["#FAC090","#993366","#808080","#000000","#008000","#333399","#FF0000"]},
      "legend": {"title": null, "orient": "none", "legendX": 0, "legendY": 576, "direction": "horizontal", "symbolType": "stroke", "symbolSize": 625, "labelFontSize": 12, "labelFont": "Liberation Sans", "labelColor": "black", "labelBaseline": "middle", "clipHeight": 14, "columnPadding": 77, "gridAlign": "each", "labelOffset": 3}},
    "strokeWidth": {"field": "s", "type": "nominal",
      "scale": {"type": "ordinal", "domain": ["Max","Min","Average","1992-93","2017-18","2018-19","2019-20"], "range": [5,5,5,1.6,1.6,2,6]},
      "legend": {"title": null, "orient": "none", "legendX": 0, "legendY": 576, "direction": "horizontal", "symbolType": "stroke", "symbolSize": 625, "labelFontSize": 12, "labelFont": "Liberation Sans", "labelColor": "black", "labelBaseline": "middle", "clipHeight": 14, "columnPadding": 77, "gridAlign": "each", "labelOffset": 3}}
  }
}
